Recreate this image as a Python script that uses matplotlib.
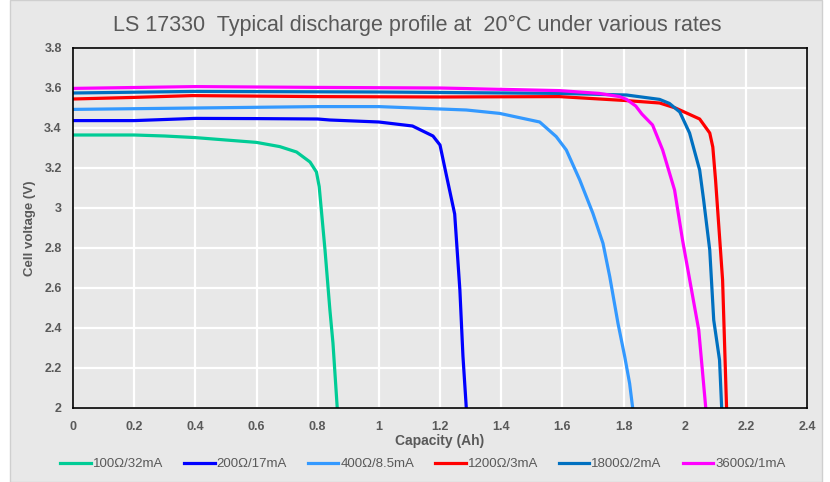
import matplotlib
matplotlib.use("Agg")
import matplotlib.pyplot as plt
from matplotlib.patches import Rectangle

# discharge curves (capacity Ah, voltage V)
labels = ["100Ω/32mA", "200Ω/17mA", "400Ω/8.5mA", "1200Ω/3mA", "1800Ω/2mA", "3600Ω/1mA"]
colors = ["#00cc96", "#0000ff", "#3399ff", "#ff0000", "#0070c0", "#ff00ff"]

green_x = [0, 0.2, 0.3, 0.4, 0.5, 0.6, 0.676, 0.731, 0.775, 0.796, 0.805, 0.824, 0.84, 0.85, 0.864]
green_y = [3.365, 3.365, 3.36, 3.352, 3.34, 3.328, 3.307, 3.28, 3.23, 3.18, 3.107, 2.79, 2.49, 2.325, 2.0]

blue_x = [0, 0.2, 0.4, 0.6, 0.8, 0.84, 1.0, 1.11, 1.177, 1.2, 1.22, 1.248, 1.265, 1.275, 1.286]
blue_y = [3.437, 3.437, 3.448, 3.447, 3.445, 3.44, 3.43, 3.41, 3.36, 3.315, 3.17, 2.97, 2.59, 2.26, 2.0]

lblue_x = [0, 0.4, 0.8, 1.0, 1.286, 1.395, 1.526, 1.58, 1.613, 1.657, 1.70, 1.733, 1.755, 1.782, 1.804, 1.82, 1.83]
lblue_y = [3.493, 3.5, 3.507, 3.507, 3.49, 3.473, 3.43, 3.357, 3.29, 3.14, 2.973, 2.823, 2.657, 2.423, 2.257, 2.123, 2.0]

red_x = [0, 0.2, 0.39, 0.8, 1.2, 1.59, 1.81, 1.918, 1.97, 2.049, 2.082, 2.092, 2.101, 2.124, 2.137]
red_y = [3.545, 3.553, 3.562, 3.557, 3.555, 3.557, 3.537, 3.525, 3.5, 3.445, 3.375, 3.305, 3.14, 2.64, 2.0]

dblue_x = [0, 0.4, 1.0, 1.59, 1.81, 1.918, 1.95, 1.984, 2.016, 2.049, 2.062, 2.082, 2.095, 2.114, 2.121]
dblue_y = [3.575, 3.583, 3.58, 3.573, 3.565, 3.543, 3.523, 3.48, 3.375, 3.19, 3.04, 2.79, 2.44, 2.24, 2.0]

mag_x = [0, 0.4, 0.8, 1.2, 1.59, 1.72, 1.787, 1.81, 1.84, 1.86, 1.895, 1.928, 1.967, 1.993, 2.046, 2.069]
mag_y = [3.598, 3.607, 3.603, 3.6, 3.587, 3.573, 3.557, 3.543, 3.51, 3.47, 3.415, 3.29, 3.09, 2.84, 2.39, 2.0]

xticks = [0, 0.2, 0.4, 0.6, 0.8, 1, 1.2, 1.4, 1.6, 1.8, 2, 2.2, 2.4]
yticks = [2, 2.2, 2.4, 2.6, 2.8, 3, 3.2, 3.4, 3.6, 3.8]

series = [(green_x, green_y), (blue_x, blue_y), (lblue_x, lblue_y),
          (red_x, red_y), (dblue_x, dblue_y), (mag_x, mag_y)]

plt.rcParams['font.family'] = ['Liberation Sans', 'DejaVu Sans']
bg = "#e8e8e8"
txt = "#595959"

fig = plt.figure(figsize=(8.3, 4.82), dpi=100, facecolor="white")
fig.patches.append(Rectangle((10/830, 0), 812/830, 1.0, transform=fig.transFigure,
                             facecolor=bg, edgecolor="#cfcfcf", lw=1, zorder=-10))

ax = fig.add_axes([73/830, 74/482, 734/830, 360/482])
ax.set_facecolor(bg)

for (x, y), c, lab in zip(series, colors, labels):
    ax.plot(x, y, color=c, lw=2.3, label=lab, solid_joinstyle='round')

ax.set_xlim(0, 2.4)
ax.set_ylim(2, 3.8)
ax.set_xticks(xticks)
ax.set_yticks(yticks)
ax.set_xticklabels([f"{t:g}" for t in xticks])
ax.set_yticklabels([f"{t:g}" for t in yticks])
ax.tick_params(length=0, labelsize=9, labelcolor=txt)
ax.tick_params(axis='x', pad=9)
ax.tick_params(axis='y', pad=8)
for lab in ax.get_xticklabels() + ax.get_yticklabels():
    lab.set_fontweight('bold')
ax.grid(True, color="white", lw=1.6)
ax.set_axisbelow(True)
for s in ax.spines.values():
    s.set_color("black")
    s.set_linewidth(1.2)

ax.set_xlabel("Capacity (Ah)", fontsize=10, fontweight='bold', color=txt, labelpad=1)
ax.set_ylabel("Cell voltage (V)", fontsize=9.5, fontweight='bold', color=txt, labelpad=6)

fig.text(417/830, 1 - 25/482, "LS 17330  Typical discharge profile at  20°C under various rates",
         ha='center', va='center', fontsize=15.5, color=txt)

fig.legend(loc='center', bbox_to_anchor=(423/830, 1 - 464/482), ncol=6, frameon=False,
           fontsize=9.5, labelcolor=txt, handlelength=2.3, handletextpad=0.15, columnspacing=1.6)

fig.savefig("out.png", dpi=100, facecolor=fig.get_facecolor())
